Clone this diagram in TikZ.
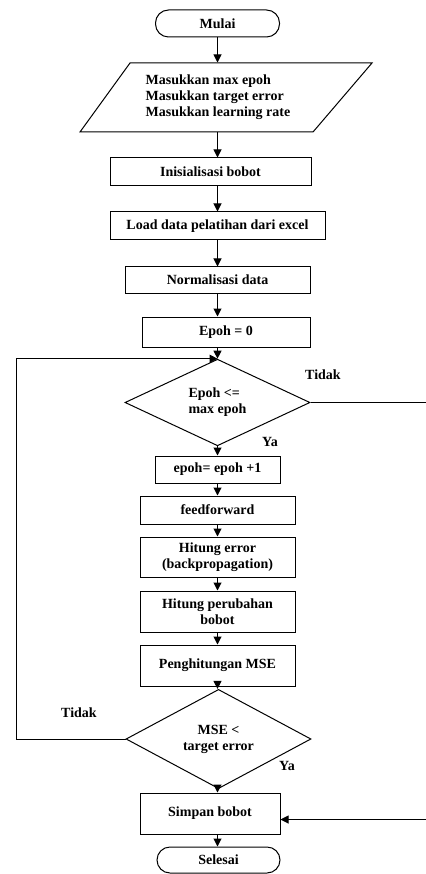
\documentclass[tikz,border=0pt]{standalone}
\usepackage{fontspec}
\setmainfont{Liberation Serif}
\usetikzlibrary{shapes,arrows.meta}

\begin{document}
\begin{tikzpicture}[x=1pt,y=1pt,line width=1pt,
  every node/.style={font=\bfseries\fontsize{14}{16}\selectfont},
  terminal/.style={draw,rectangle,rounded corners=13pt,minimum width=124pt,minimum height=27pt,inner sep=0pt},
  io/.style={rectangle,minimum height=69pt,align=left,inner sep=0pt},
  proses/.style={draw,rectangle,minimum height=28pt,inner sep=0pt,align=center},
  keputusan/.style={draw,diamond,minimum width=185pt,minimum height=81pt,inner sep=0pt,align=center},
  panah/.style={-{Triangle[width=8pt,length=8pt]}}]
\useasboundingbox (0,0) rectangle (425,-874);
\node[terminal] (mulai) at (217.5,-23.5) {Mulai};
\node[io] (masukan) at (218,-97.5) {Masukkan max epoh\\Masukkan target error\\Masukkan learning rate};
\draw (masukan.center) ++(-138,-34.5) -- ++(50,69) -- ++(242,0) -- ++(-59,-69) -- cycle;
\node[proses,minimum width=201pt] (inisial) at (210.5,-172) {Inisialisasi bobot};
\node[proses,minimum width=215pt] (load) at (217.5,-226) {Load data pelatihan dari excel};
\node[proses,minimum width=185pt,minimum height=26pt] (normal) at (217.5,-280) {Normalisasi data};
\node[proses,minimum width=168pt,minimum height=30pt] (epohnol) at (226,-332) {Epoh = 0};
\node[keputusan,align=left] (cekepoh) at (217.5,-402.5) {Epoh <=\\max epoh};
\node[proses,minimum width=125pt,minimum height=27pt] (tambah) at (217.5,-469.5) {epoh= epoh +1};
\node[proses,minimum width=155pt] (ff) at (217.5,-510) {feedforward};
\node[proses,minimum width=155pt,minimum height=40pt] (bp) at (217.5,-557) {Hitung error\\(backpropagation)};
\node[proses,minimum width=155pt,minimum height=41pt] (ubah) at (217.5,-611.5) {Hitung perubahan\\bobot};
\node[proses,minimum width=155pt,minimum height=41pt] (hitmse) at (217.5,-665.5) {Penghitungan MSE};
\node[keputusan,minimum height=80pt] (cekmse) at (218.5,-739) {MSE <\\target error};
\node[proses,minimum width=140pt,minimum height=41pt] (simpan) at (210,-813.5) {Simpan bobot};
\node[terminal,minimum width=123pt,minimum height=26pt] (selesai) at (218.5,-860) {Selesai};
% label cabang
\node (tidak1) at (323,-375) {Tidak};
\node (ya1) at (270,-442) {Ya};
\node (tidak2) at (79,-713) {Tidak};
\node (ya2) at (287,-766) {Ya};
% alur utama
\foreach \a/\b in {mulai/masukan,masukan/inisial,inisial/load,load/normal,normal/epohnol,epohnol/cekepoh,
  cekepoh/tambah,tambah/ff,ff/bp,bp/ubah,ubah/hitmse,hitmse/cekmse,cekmse/simpan,simpan/selesai}
  \draw[panah] (\a.south -| mulai) -- (\b.north -| mulai);
% putaran balik dan keluar
\coordinate (kiri) at (16,0);
\coordinate (kanan) at (428,0);
\coordinate (masuk) at ([yshift=-6pt]simpan.east);
\draw[panah] (cekmse.west) -- (cekmse.west -| kiri) -- (kiri |- cekepoh.north) -- (cekepoh.north);
\draw[panah] (cekepoh.east) -- (cekepoh.east -| kanan) -- (kanan |- masuk) -- (masuk);
\end{tikzpicture}
\end{document}
